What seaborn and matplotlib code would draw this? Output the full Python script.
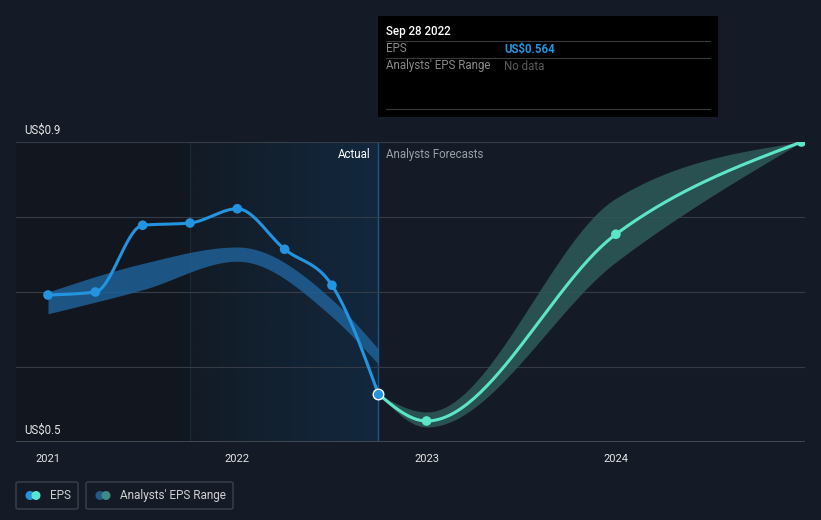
import numpy as np
import pandas as pd
import matplotlib
matplotlib.use("Agg")
import matplotlib.pyplot as plt
import seaborn as sns
from matplotlib.patches import Rectangle, FancyBboxPatch, Ellipse
from matplotlib.colors import LinearSegmentedColormap

# ---------------- data ----------------
eps_x = [2021.0, 2021.25, 2021.5, 2021.75, 2022.0, 2022.25, 2022.5, 2022.745]
eps_y = [0.696, 0.700, 0.789, 0.792, 0.811, 0.757, 0.709, 0.564]

past_range_x = [2021.0, 2021.5, 2022.0, 2022.5, 2022.745]
past_low = [0.671, 0.703, 0.741, 0.667, 0.604]
past_high = [0.700, 0.738, 0.760, 0.690, 0.624]

fc_x = [2022.745, 2023.0, 2024.0, 2024.98]
fc_y = [0.564, 0.528, 0.777, 0.900]
fc_low = [0.564, 0.520, 0.740, 0.900]
fc_high = [0.564, 0.540, 0.825, 0.900]

year_ticks = [2021, 2022, 2023, 2024]
year_labels = ["2021", "2022", "2023", "2024"]

# ---------------- colours ----------------
BG = "#151b26"
DARK = "#11161f"
GRID = "#363c47"
EPS_C = "#2394df"
FC_C = "#5de5c9"
PAST_BAND = "#1f6096"
FC_BAND = "#2d5856"


def monotone(xs, ys, n=60):
    x = np.asarray(xs, float)
    y = np.asarray(ys, float)
    h = np.diff(x)
    s = np.diff(y) / h
    m = np.zeros_like(x)
    for i in range(1, len(x) - 1):
        p = (s[i - 1] * h[i] + s[i] * h[i - 1]) / (h[i - 1] + h[i])
        m[i] = (np.sign(s[i - 1]) + np.sign(s[i])) * min(abs(s[i - 1]), abs(s[i]), 0.5 * abs(p))
    if len(x) > 2:
        m[0] = (3 * s[0] - m[1]) / 2
        m[-1] = (3 * s[-1] - m[-2]) / 2
    else:
        m[:] = s[0]
    X, Y = [], []
    for i in range(len(x) - 1):
        t = np.linspace(0, 1, n, endpoint=(i == len(x) - 2))
        h00 = 2 * t**3 - 3 * t**2 + 1
        h10 = t**3 - 2 * t**2 + t
        h01 = -2 * t**3 + 3 * t**2
        h11 = t**3 - t**2
        X.append(x[i] + t * h[i])
        Y.append(h00 * y[i] + h10 * h[i] * m[i] + h01 * y[i + 1] + h11 * h[i] * m[i + 1])
    return np.concatenate(X), np.concatenate(Y)


W, H = 821, 520
sns.set_style("dark")
plt.rcParams["font.family"] = ["Roboto", "DejaVu Sans"]
fig = plt.figure(figsize=(W / 100, H / 100), dpi=100, facecolor=BG)

L, R, T, B = 16, 805, 142, 442
ax = fig.add_axes([L / W, 1 - B / H, (R - L) / W, (B - T) / H])
ax.set_facecolor(BG)
ax.set_xlim(2020.831, 2024.999)
ax.set_ylim(0.5, 0.9)

# background regions
ax.axvspan(2020.831, 2021.75, color=DARK, zorder=0, lw=0)
grad = np.linspace(0, 1, 256).reshape(1, -1)
cmap = LinearSegmentedColormap.from_list("g", ["#121b25", "#12283e"])
ax.imshow(grad, cmap=cmap, extent=[2021.75, 2022.745, 0.5, 0.9], aspect="auto", zorder=0.5)
ax.axvline(2021.75, color="#1c2a3a", lw=0.8, zorder=0.6)
ax.axvline(2022.745, color="#1f5585", lw=1, zorder=0.6)

# grid
for v in [0.6, 0.7, 0.8, 0.9]:
    ax.axhline(v, color=GRID, lw=0.8, zorder=1)
ax.axhline(0.5, color="#4a505a", lw=1.2, zorder=1)

# bands
bx, bl = monotone(past_range_x, past_low)
_, bh = monotone(past_range_x, past_high)
ax.fill_between(bx, bl, bh, color=PAST_BAND, alpha=0.85, lw=0, zorder=2)
fx, fl = monotone(fc_x, fc_low)
_, fh = monotone(fc_x, fc_high)
ax.fill_between(fx, fl, fh, color=FC_BAND, alpha=0.9, lw=0, zorder=2)

# lines
ex, ey = monotone(eps_x, eps_y)
sns.lineplot(x=ex, y=ey, ax=ax, color=EPS_C, lw=2.2, sort=False, zorder=4)
cx, cy = monotone(fc_x, fc_y)
sns.lineplot(x=cx, y=cy, ax=ax, color=FC_C, lw=2.2, sort=False, zorder=4)

sns.scatterplot(x=eps_x[:-1], y=eps_y[:-1], ax=ax, color=EPS_C, s=48, edgecolor="none", zorder=5)
sns.scatterplot(x=fc_x[1:], y=fc_y[1:], ax=ax, color=FC_C, s=48, edgecolor="none", zorder=5)
sns.scatterplot(x=[eps_x[-1]], y=[eps_y[-1]], ax=ax, color=EPS_C, s=58, edgecolor="white", linewidth=1.0, zorder=6)

# axes styling
for sp in ax.spines.values():
    sp.set_visible(False)
ax.set_yticks([])
ax.set_xticks(year_ticks)
ax.set_xticklabels(year_labels)
ax.tick_params(axis="x", colors="#4a505a", length=4, width=1, labelcolor="#e6e6e6", labelsize=8, pad=5)
ax.grid(False)
ax.set_xlabel("")
ax.set_ylabel("")

fig.text(24 / W, 1 - 130 / H, "US$0.9", color="#e6e6e6", fontsize=8.3, va="center", ha="left")
fig.text(24 / W, 1 - 430 / H, "US$0.5", color="#e6e6e6", fontsize=8.3, va="center", ha="left")
fig.text(370 / W, 1 - 154 / H, "Actual", color="#ffffff", fontsize=8.3, va="center", ha="right")
fig.text(386 / W, 1 - 154 / H, "Analysts Forecasts", color="#9a9ea5", fontsize=8.3, va="center", ha="left")

# tooltip
fig.add_artist(Rectangle((378 / W, 1 - 117 / H), (718 - 378) / W, (117 - 16) / H,
                         transform=fig.transFigure, facecolor="#000000", edgecolor="none", zorder=10))
for yy in [41, 58, 109]:
    fig.add_artist(plt.Line2D([386 / W, 710 / W], [1 - yy / H, 1 - yy / H], transform=fig.transFigure,
                              color="#3a3a3a", lw=0.8, zorder=11))
fig.text(386 / W, 1 - 31 / H, "Sep 28 2022", color="#ffffff", fontsize=8.3, va="center", ha="left",
         fontweight="medium", zorder=12)
fig.text(386 / W, 1 - 49 / H, "EPS", color="#8a8a8a", fontsize=8.3, va="center", ha="left", zorder=12)
fig.text(504 / W, 1 - 49 / H, "US$0.564", color=EPS_C, fontsize=8.3, va="center", ha="left",
         fontweight="bold", zorder=12)
fig.text(386 / W, 1 - 66 / H, "Analysts' EPS Range", color="#8a8a8a", fontsize=8.3, va="center", ha="left", zorder=12)
fig.text(504 / W, 1 - 66 / H, "No data", color="#5a5a5a", fontsize=8.3, va="center", ha="left", zorder=12)


# legend
def legend_box(x0, x1, label, c1, c2):
    fig.add_artist(FancyBboxPatch((x0 / W, 1 - 509 / H), (x1 - x0) / W, 27 / H,
                                  boxstyle="round,pad=0,rounding_size=0.003", transform=fig.transFigure,
                                  facecolor="none", edgecolor="#3c424c", lw=1))
    cy_ = 1 - 495.5 / H
    fig.add_artist(Ellipse(((x0 + 14) / W, cy_), 9 / W, 9 / H, transform=fig.transFigure, facecolor=c1, edgecolor="none"))
    fig.add_artist(Ellipse(((x0 + 20) / W, cy_), 9 / W, 9 / H, transform=fig.transFigure, facecolor=c2, edgecolor="none"))
    fig.text((x0 + 34) / W, cy_, label, color="#d0d0d0", fontsize=8.5, va="center", ha="left")


legend_box(16, 78, "EPS", EPS_C, FC_C)
legend_box(86, 233, "Analysts' EPS Range", "#1f5a8a", "#3f8a82")

fig.savefig("out.png", dpi=100, facecolor=BG)
